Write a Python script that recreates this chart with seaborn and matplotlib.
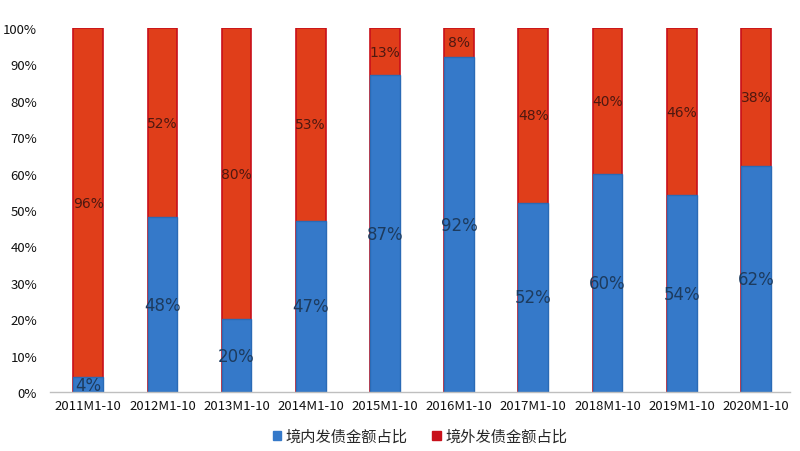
import matplotlib
matplotlib.use("Agg")
import matplotlib.pyplot as plt
import seaborn as sns
import pandas as pd
from matplotlib.patches import Patch

categories = ["2011M1-10", "2012M1-10", "2013M1-10", "2014M1-10", "2015M1-10",
              "2016M1-10", "2017M1-10", "2018M1-10", "2019M1-10", "2020M1-10"]
domestic = [4, 48, 20, 47, 87, 92, 52, 60, 54, 62]
overseas = [96, 52, 80, 53, 13, 8, 48, 40, 46, 38]
series_names = ["境内发债金额占比", "境外发债金额占比"]
yticks = [0, 10, 20, 30, 40, 50, 60, 70, 80, 90, 100]

sns.set_theme(style="white")
plt.rcParams["font.family"] = ["Noto Sans CJK SC", "DejaVu Sans"]

blue = "#3579c9"
blue_edge = "#2a6ab5"
red = "#e03e1a"
red_edge = "#c8101a"

df = pd.DataFrame({"cat": categories, "dom": domestic, "ovs": overseas})
df["total"] = df["dom"] + df["ovs"]

fig = plt.figure(figsize=(8, 4.52), dpi=100)
ax = fig.add_axes([0.062, 0.1305, 0.9255, 0.8055])

sns.barplot(data=df, x="cat", y="total", color=red, edgecolor=red_edge,
            linewidth=1.2, width=0.4, saturation=1, ax=ax)
sns.barplot(data=df, x="cat", y="dom", color=blue, edgecolor=blue_edge,
            linewidth=1.0, width=0.4, saturation=1, ax=ax)

for i, (d, o) in enumerate(zip(domestic, overseas)):
    ax.text(i, d / 2, f"{d}%", ha="center", va="center", fontsize=12,
            color="#1d3b5e", family=["DejaVu Sans"])
    ax.text(i, d + o / 2, f"{o}%", ha="center", va="center", fontsize=10,
            color="#4e1810", family=["DejaVu Sans"])

ax.set_ylim(0, 100)
ax.set_xlim(-0.52, 9.46)
ax.set_yticks(yticks)
ax.set_yticklabels([f"{v}%" for v in yticks], fontsize=9.5, color="#111111")
ax.tick_params(axis="x", labelsize=9.5, colors="#111111", length=0, pad=5)
ax.tick_params(axis="y", length=0, pad=9)
ax.set_xlabel("")
ax.set_ylabel("")
for s in ["top", "right", "left"]:
    ax.spines[s].set_visible(False)
ax.spines["bottom"].set_color("#bfbfbf")
ax.spines["bottom"].set_linewidth(1.0)

handles = [Patch(facecolor=blue, edgecolor=blue), Patch(facecolor=red_edge, edgecolor=red_edge)]
fig.legend(handles, series_names, loc="center", bbox_to_anchor=(0.525, 0.033),
           ncol=2, frameon=False, fontsize=11, handlelength=0.55, handleheight=0.55,
           handletextpad=0.3, columnspacing=1.6)

fig.savefig("out.png", dpi=100)
